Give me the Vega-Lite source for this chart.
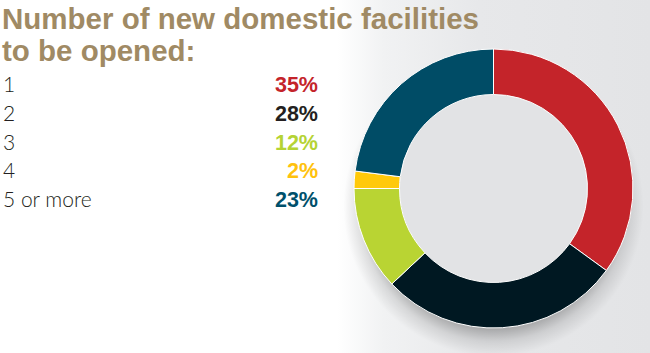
{
  "$schema": "https://vega.github.io/schema/vega-lite/v6.json",
  "autosize": {"type": "pad"},
  "padding": 0,
  "background": "#ffffff",
  "bounds": "flush",
  "spacing": 0,
  "config": {"view": {"stroke": null}},
  "title": {
    "text": ["Number of new domestic facilities", "to be opened:"],
    "anchor": "start",
    "orient": "top",
    "baseline": "top",
    "offset": -67,
    "dx": 2,
    "font": "Liberation Sans",
    "fontSize": 29.5,
    "fontWeight": "bold",
    "color": "#a08a64",
    "lineHeight": 32
  },
  "datasets": {
    "shares": [
      {"label": "1", "share": 0.35},
      {"label": "2", "share": 0.28},
      {"label": "3", "share": 0.12},
      {"label": "4", "share": 0.02},
      {"label": "5 or more", "share": 0.23}
    ],
    "disk": [{"v": 1}]
  },
  "resolve": {"scale": {"color": "independent", "x": "independent", "y": "independent", "theta": "independent"}},
  "hconcat": [
    {
      "width": 337,
      "height": 353,
      "data": {"name": "shares"},
      "layer": [
        {
          "mark": {"type": "text", "align": "left", "baseline": "alphabetic", "font": "Lato", "fontWeight": 300, "fontSize": 21, "color": "#231f20"},
          "encoding": {
            "x": {"datum": "label", "type": "nominal", "scale": {"type": "point", "padding": 0, "domain": ["label", "pct"], "range": [3, 318]}, "axis": null},
            "y": {"field": "label", "type": "ordinal", "scale": {"type": "point", "padding": 0, "range": [92, 207]}, "axis": null},
            "text": {"field": "label", "type": "nominal"}
          }
        },
        {
          "mark": {"type": "text", "align": "right", "baseline": "alphabetic", "font": "Liberation Sans Narrow, Liberation Sans", "fontWeight": "bold", "fontSize": 21.5},
          "encoding": {
            "x": {"datum": "pct", "type": "nominal", "scale": {"type": "point", "padding": 0, "domain": ["label", "pct"], "range": [3, 318]}, "axis": null},
            "y": {"field": "label", "type": "ordinal", "scale": {"type": "point", "padding": 0, "range": [92, 207]}, "axis": null},
            "text": {"field": "share", "type": "quantitative", "format": ".0%"},
            "color": {"field": "label", "type": "nominal", "scale": {"domain": ["1", "2", "3", "4", "5 or more"], "range": ["#c4242a", "#231f20", "#b5d334", "#ffc20e", "#00506b"]}, "legend": null}
          }
        }
      ]
    },
    {
      "width": 313,
      "height": 377,
      "view": {
        "stroke": null,
        "fill": {
          "gradient": "linear", "x1": 0, "y1": 0, "x2": 1, "y2": 0,
          "stops": [
            {"offset": 0, "color": "#ffffff"},
            {"offset": 0.15, "color": "#f1f2f3"},
            {"offset": 0.45, "color": "#e7e8ea"},
            {"offset": 1, "color": "#e3e4e6"}
          ]
        }
      },
      "layer": [
        {
          "data": {"name": "disk"},
          "mark": {
            "type": "arc", "radius": 175,
            "fill": {
              "gradient": "radial", "x1": 0.5, "y1": 0.551, "r1": 0, "x2": 0.5, "y2": 0.551, "r2": 0.4286,
              "stops": [
                {"offset": 0, "color": "rgba(0,0,0,0.3)"},
                {"offset": 0.8, "color": "rgba(0,0,0,0.3)"},
                {"offset": 0.9, "color": "rgba(0,0,0,0.1)"},
                {"offset": 1, "color": "rgba(0,0,0,0)"}
              ]
            }
          },
          "encoding": {"theta": {"field": "v", "type": "quantitative"}}
        },
        {
          "data": {"name": "disk"},
          "mark": {"type": "arc", "radius": 94, "fill": "#e2e3e5"},
          "encoding": {"theta": {"field": "v", "type": "quantitative"}}
        },
        {
          "data": {"name": "shares"},
          "mark": {"type": "arc", "radius": 139.5, "radius2": 94, "stroke": "#ffffff", "strokeWidth": 1},
          "encoding": {
            "theta": {"field": "share", "type": "quantitative", "stack": true},
            "order": {"field": "label", "type": "ordinal"},
            "color": {"field": "label", "type": "nominal", "scale": {"domain": ["1", "2", "3", "4", "5 or more"], "range": ["#c4242a", "#001822", "#b9d433", "#ffc90a", "#004c66"]}, "legend": null}
          }
        }
      ]
    }
  ]
}
